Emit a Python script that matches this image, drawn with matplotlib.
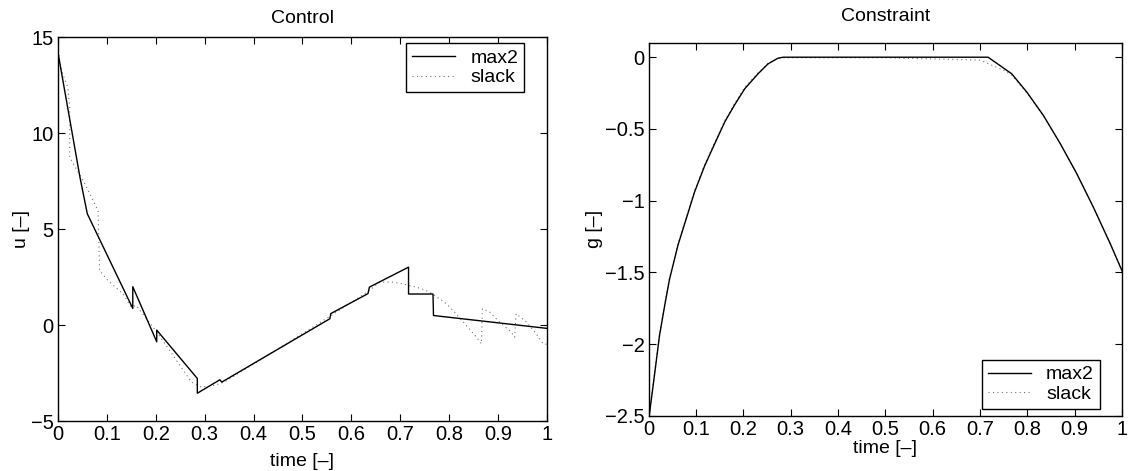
import matplotlib
matplotlib.use("Agg")
import matplotlib.pyplot as plt

plt.rcParams["font.family"] = ["Liberation Sans", "DejaVu Sans"]
plt.rcParams["font.size"] = 14

# Control, max2 (piecewise linear with jumps)
t_u_max2 = [0.0, 0.045, 0.06, 0.153, 0.153, 0.202, 0.202, 0.285, 0.285, 0.331, 0.335,
            0.556, 0.558, 0.634, 0.637, 0.717, 0.717, 0.767, 0.768, 1.0]
u_max2 = [14.2, 7.7, 5.8, 0.87, 2.0, -0.87, -0.26, -2.78, -3.55, -2.85, -2.97,
          0.33, 0.6, 1.64, 1.98, 3.02, 1.62, 1.62, 0.5, -0.17]

# Control, slack
t_u_slack = [0.0, 0.008, 0.02, 0.024, 0.024, 0.036, 0.055, 0.082, 0.083, 0.085, 0.102,
             0.133, 0.15, 0.16, 0.184, 0.2, 0.273, 0.293, 0.32, 0.34, 0.412, 0.556,
             0.634, 0.658, 0.685, 0.704, 0.729, 0.743, 0.76, 0.78, 0.794, 0.811, 0.838,
             0.856, 0.866, 0.868, 0.883, 0.903, 0.927, 0.934, 0.937, 0.958, 0.978, 0.992, 1.0]
u_slack = [14.3, 13.2, 12.4, 11.35, 8.75, 8.2, 7.36, 5.97, 4.9, 2.85, 2.33,
           1.63, 0.94, 1.03, 0.24, -0.28, -2.97, -3.23, -3.14, -2.97, -1.84, 0.45,
           1.75, 2.24, 2.24, 2.15, 2.0, 1.9, 1.72, 1.38, 1.12, 0.68, -0.1,
           -0.63, -0.97, 0.85, 0.68, 0.16, -0.36, -0.63, 0.59, 0.16, -0.45, -0.97, -1.0]

# Constraint, max2
t_g_max2 = [0.0, 0.002, 0.013, 0.023, 0.034, 0.044, 0.062, 0.080, 0.097, 0.118, 0.14,
            0.161, 0.182, 0.203, 0.231, 0.252, 0.273, 0.284, 0.5, 0.717, 0.767,
            0.799, 0.834, 0.869, 0.904, 0.940, 0.975, 1.0]
g_max2 = [-2.5, -2.48, -2.20, -1.94, -1.73, -1.55, -1.31, -1.12, -0.94, -0.76, -0.60,
          -0.45, -0.33, -0.22, -0.116, -0.047, -0.007, 0.0, 0.0, 0.0, -0.116,
          -0.244, -0.407, -0.60, -0.81, -1.05, -1.30, -1.49]

# Constraint, slack
t_g_slack = [0.0, 0.002, 0.013, 0.023, 0.034, 0.044, 0.062, 0.080, 0.097, 0.118, 0.14,
             0.161, 0.182, 0.203, 0.231, 0.252, 0.273, 0.284, 0.5, 0.7, 0.728, 0.749,
             0.767, 0.799, 0.834, 0.869, 0.904, 0.940, 0.975, 1.0]
g_slack = [-2.5, -2.47, -2.19, -1.93, -1.72, -1.54, -1.30, -1.11, -0.93, -0.75, -0.59,
           -0.44, -0.32, -0.21, -0.11, -0.045, -0.008, -0.004, -0.004, -0.02, -0.06, -0.09,
           -0.125, -0.25, -0.41, -0.60, -0.81, -1.05, -1.30, -1.49]

xticks = [0, 0.1, 0.2, 0.3, 0.4, 0.5, 0.6, 0.7, 0.8, 0.9, 1.0]
xticklabels = ["0", "0.1", "0.2", "0.3", "0.4", "0.5", "0.6", "0.7", "0.8", "0.9", "1"]

fig = plt.figure(figsize=(11.3, 4.71), dpi=100)
ax1 = fig.add_axes([0.0513, 0.106, 0.4327, 0.815])
ax2 = fig.add_axes([0.574, 0.117, 0.419, 0.792])

dotted = (0, (1, 3))


def style_axes(ax, xpad):
    ax.set_xlim(0, 1)
    ax.set_xticks(xticks)
    ax.set_xticklabels(xticklabels)
    ax.tick_params(direction="in", top=True, right=True, length=5, width=0.8,
                   labelsize=14.5, pad=3)
    for sp in ax.spines.values():
        sp.set_linewidth(1.0)
    ax.set_xlabel("time [\u2013]", fontsize=14, labelpad=xpad)


ax1.plot(t_u_max2, u_max2, color="black", lw=1.0, label="max2")
ax1.plot(t_u_slack, u_slack, color="black", lw=0.8, ls=dotted, alpha=0.55, label="slack")
style_axes(ax1, 6)
ax1.set_ylim(-5, 15)
ax1.set_yticks([-5, 0, 5, 10, 15])
ax1.set_ylabel("u [\u2013]", fontsize=14, labelpad=1)
ax1.set_title("Control", fontsize=14, pad=10)
leg1 = ax1.legend(loc="upper right", bbox_to_anchor=(0.953, 0.984), fancybox=False,
                  framealpha=1, edgecolor="black", fontsize=14, handlelength=2.2,
                  borderpad=0.3, labelspacing=0.1, borderaxespad=0)
leg1.get_frame().set_linewidth(1.0)

ax2.plot(t_g_max2, g_max2, color="black", lw=1.0, label="max2")
ax2.plot(t_g_slack, g_slack, color="black", lw=0.8, ls=dotted, alpha=0.55, label="slack")
style_axes(ax2, 1)
ax2.set_ylim(-2.5, 0.1)
ax2.set_yticks([-2.5, -2, -1.5, -1, -0.5, 0])
ax2.set_yticklabels(["\u22122.5", "\u22122", "\u22121.5", "\u22121", "\u22120.5", "0"])
ax2.set_ylabel("g [\u2013]", fontsize=14, labelpad=1)
ax2.set_title("Constraint", fontsize=14, pad=16)
leg2 = ax2.legend(loc="lower right", bbox_to_anchor=(0.953, 0.019), fancybox=False,
                  framealpha=1, edgecolor="black", fontsize=14, handlelength=2.2,
                  borderpad=0.3, labelspacing=0.1, borderaxespad=0)
leg2.get_frame().set_linewidth(1.0)

fig.savefig("out.png", dpi=100)
